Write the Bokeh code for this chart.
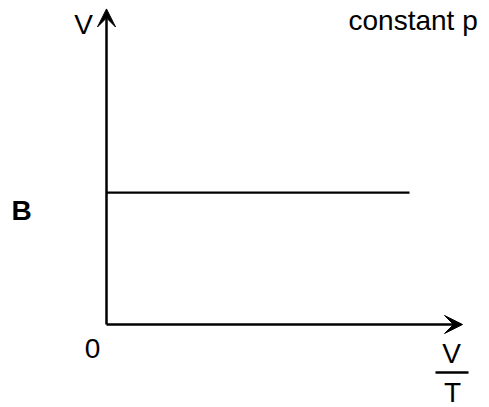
from bokeh.plotting import figure
from bokeh.models import Range1d, Arrow, VeeHead, Label
from bokeh.embed import file_html
from bokeh.resources import INLINE

# ---- chart data (chart units) ----
ratio_vt = [0.0, 10.0]      # V/T along the x axis
volume = [4.2, 4.2]         # constant V (line)
x_axis_max = 11.75
y_axis_max = 10.05
x_label_top = "V"
x_label_bottom = "T"
y_label = "V"
origin_label = "0"
title_text = "constant p"
panel_label = "B"

# ---- layout ----
PAD = 0
W, H = 489, 407
OX, OY = 106, 324            # page pixel position of origin
SX, SY = 30.3, 31.4          # pixels per chart unit
x0 = -(OX - PAD) / SX
y0 = -(PAD + H - OY) / SY
TEXT_SHIFT = 9               # baseline correction in pixels

def cx(px):
    return x0 + (px - PAD) / SX

def cy(py):
    return y0 + (PAD + H - py) / SY

p = figure(width=W, height=H, output_backend="svg", toolbar_location=None,
           x_range=Range1d(x0, x0 + W / SX), y_range=Range1d(y0, y0 + H / SY),
           x_axis_location=None, y_axis_location=None, min_border=0)
p.grid.visible = False
p.outline_line_color = None
p.background_fill_color = "white"

LW = 2.5
# axes with arrows
p.add_layout(Arrow(x_start=0, y_start=0, x_end=0, y_end=y_axis_max,
                   line_width=LW, line_color="black",
                   end=VeeHead(size=18, fill_color="black", line_color="black", line_width=1)))
p.add_layout(Arrow(x_start=0, y_start=0, x_end=x_axis_max, y_end=0,
                   line_width=LW, line_color="black",
                   end=VeeHead(size=18, fill_color="black", line_color="black", line_width=1)))

# data line
p.line(ratio_vt, volume, line_width=2.2, line_color="black")

FONT = "Liberation Sans"
FS = "28px"

def lab(text, px, py, align="center", style="normal"):
    p.add_layout(Label(x=cx(px), y=cy(py - TEXT_SHIFT), text=text, text_align=align,
                       text_baseline="alphabetic", text_font=FONT,
                       text_font_size=FS, text_font_style=style,
                       text_color="black"))

lab(y_label, 83, 33)
lab(title_text, 348, 29, align="left")
lab(panel_label, 11, 219, align="left", style="bold")
lab(origin_label, 92, 357)
lab(x_label_top, 451, 362)
lab(x_label_bottom, 452, 401)

# fraction bar
p.segment(x0=[cx(435)], y0=[cy(372)], x1=[cx(468)], y1=[cy(372)],
          line_width=2.5, line_color="black")

open("out.html", "w").write(file_html(p, INLINE))
